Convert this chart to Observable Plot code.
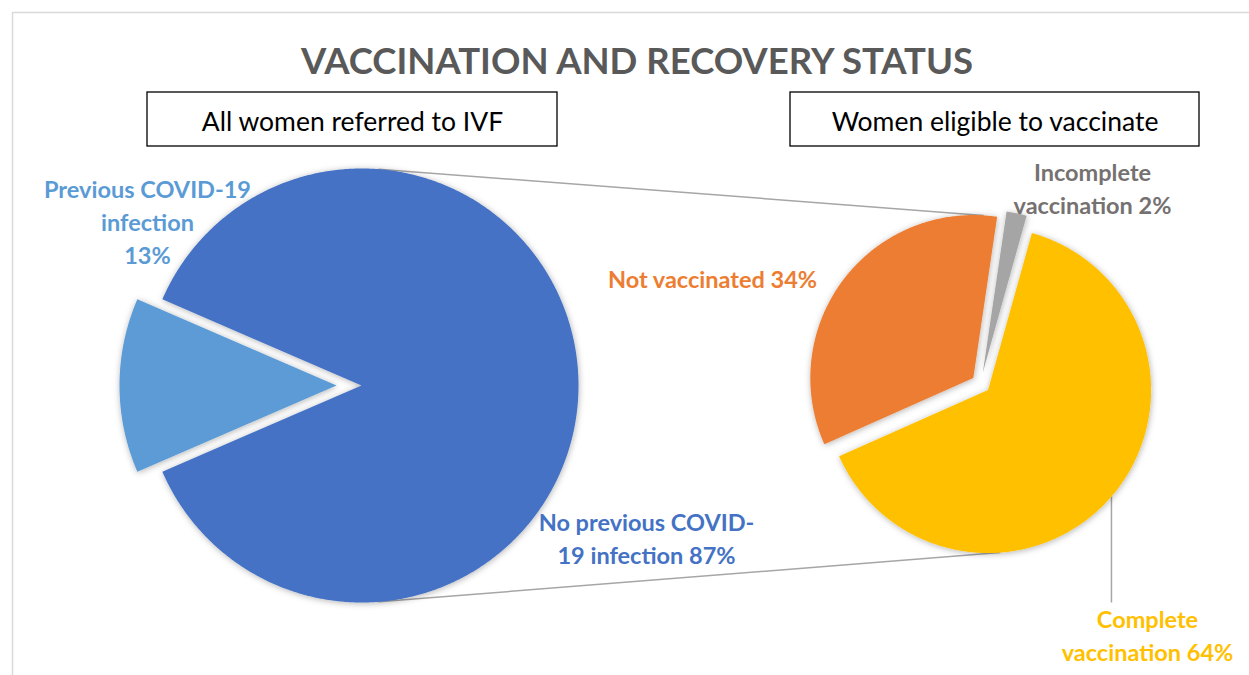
<!DOCTYPE html>
<html><head><meta charset="utf-8">
<script src="https://cdn.jsdelivr.net/npm/d3@7"></script>
<script src="https://cdn.jsdelivr.net/npm/@observablehq/plot@0.6"></script>
<style>body{margin:0;background:#fff;}</style>
</head><body><div id="chart"></div>
<script>
// ---- data ----
const title = "VACCINATION AND RECOVERY STATUS";
const panelTitles = ["All women referred to IVF", "Women eligible to vaccinate"];
const leftCategories = ["Previous COVID-19 infection", "No previous COVID-19 infection"];
const leftValues = [13, 87];
const leftColors = ["#5B9BD5", "#4472C4"];
const leftLabelTemplates = ["Previous COVID-19\ninfection\n{v}%", "No previous COVID-\n19 infection {v}%"];
const rightCategories = ["Not vaccinated", "Incomplete vaccination", "Complete vaccination"];
const rightValues = [34, 2, 64];
const rightColors = ["#ED7D31", "#A5A5A5", "#FFC000"];
const rightLabelTemplates = ["Not vaccinated {v}%", "Incomplete\nvaccination {v}%", "Complete\nvaccination {v}%"];
const rightLabelColors = ["#ED7D31", "#767171", "#FFC000"];

// ---- layout ----
const W = 1249, H = 675;
const deg = Math.PI / 180;
const L = {cx: 361, cy: 385, r: 217, start: -113.4, explode: [25, 0]};
const R = {cx: 980, cy: 383, r: 163, start: -114, explode: [9, 11, 10]};
const leftLabelPos = [{x: 147, y: 263}, {x: 646, y: 563}];
const rightLabelPos = [{x: 712, y: 287}, {x: 1092, y: 213}, {x: 1147, y: 660}];
const calloutEndY = 602;
const boxes = [{x1: 147, x2: 557}, {x1: 790, x2: 1199}];
const boxY = [92, 146];

function slices(values, cats, colors, P) {
  const arcs = d3.pie().sort(null)
    .startAngle(P.start * deg).endAngle(P.start * deg + 2 * Math.PI)(values);
  return arcs.map((a, i) => {
    const mid = (a.startAngle + a.endAngle) / 2;
    const ox = P.cx + P.explode[i] * Math.sin(mid);
    const oy = P.cy - P.explode[i] * Math.cos(mid);
    const n = Math.max(4, Math.ceil((a.endAngle - a.startAngle) / (0.5 * deg)));
    const pts = [{x: ox, y: oy}];
    for (let k = 0; k <= n; k++) {
      const t = a.startAngle + (a.endAngle - a.startAngle) * k / n;
      pts.push({x: ox + P.r * Math.sin(t), y: oy - P.r * Math.cos(t)});
    }
    pts.push({x: ox, y: oy});
    return {cat: cats[i], color: colors[i], value: values[i], ox, oy, r: P.r, mid, pts};
  });
}
const leftS = slices(leftValues, leftCategories, leftColors, L);
const rightS = slices(rightValues, rightCategories, rightColors, R);
const poly = [...leftS, ...rightS].flatMap(s => s.pts.map(p => ({cat: s.cat, color: s.color, x: p.x, y: p.y})));

const rim = (s, angDeg) => ({x: s.ox + s.r * Math.sin(angDeg * deg), y: s.oy - s.r * Math.cos(angDeg * deg)});
const leftRim = a => ({x: L.cx + L.r * Math.sin(a * deg), y: L.cy - L.r * Math.cos(a * deg)});
const connectors = [
  {a: leftRim(4.5), b: rim(rightS[0], 3.6)},
  {a: leftRim(175.5), b: rim(rightS[2], 175.7)}
];
const callStart = rim(rightS[2], rightS[2].mid / deg);
const callout = [{x1: callStart.x, y1: callStart.y, x2: callStart.x, y2: calloutEndY}];

const labels = [
  ...leftS.map((s, i) => ({text: leftLabelTemplates[i].replace("{v}", s.value), color: s.color, ...leftLabelPos[i]})),
  ...rightS.map((s, i) => ({text: rightLabelTemplates[i].replace("{v}", s.value), color: rightLabelColors[i], ...rightLabelPos[i]}))
];

const svg = Plot.plot({
  width: W, height: H, margin: 0,
  x: {domain: [0, W], range: [0, W], axis: null},
  y: {domain: [0, H], range: [0, H], axis: null},
  color: {type: "identity"},
  style: {fontFamily: "Lato, sans-serif", background: "#fff"},
  marks: [
    Plot.ruleY([12], {x1: 12, x2: W, stroke: "#D9D9D9", strokeWidth: 1.5}),
    Plot.ruleX([12], {y1: 12, y2: H, stroke: "#D9D9D9", strokeWidth: 1.5}),
    Plot.text([title], {x: 636.5, y: 73, text: d => d, fontSize: 36.5, fontWeight: "bold", fill: "#595959", lineAnchor: "bottom"}),
    Plot.rect(boxes, {x1: "x1", x2: "x2", y1: boxY[0], y2: boxY[1], fill: "#fff", stroke: "#000", strokeWidth: 1.3}),
    Plot.text(boxes.map((b, i) => ({...b, t: panelTitles[i]})), {x: d => (d.x1 + d.x2) / 2, y: 130, text: "t", fontSize: 26.5, fill: "#000", lineAnchor: "bottom"}),
    Plot.link(connectors, {x1: d => d.a.x, y1: d => d.a.y, x2: d => d.b.x, y2: d => d.b.y, stroke: "#A6A6A6", strokeWidth: 1.5}),
    Plot.link(callout, {x1: "x1", y1: "y1", x2: "x2", y2: "y2", stroke: "#A6A6A6", strokeWidth: 1.5}),
    Plot.line(poly, {x: "x", y: "y", z: "cat", fill: "color", stroke: "none"}),
    Plot.text(labels, {x: "x", y: "y", text: "text", fill: "color", fontSize: 23.5, fontWeight: "bold", lineAnchor: "bottom", lineHeight: 1.4})
  ]
});
const defs = d3.select(svg).insert("defs", ":first-child");
const f = defs.append("filter").attr("id", "shadow").attr("x", "-20%").attr("y", "-20%").attr("width", "140%").attr("height", "140%");
f.append("feDropShadow").attr("dx", 0.5).attr("dy", 1).attr("stdDeviation", 3).attr("flood-color", "#000").attr("flood-opacity", 0.3);
d3.select(svg).selectAll('g[aria-label="line"]').attr("filter", "url(#shadow)");
document.getElementById("chart").appendChild(svg);
</script>
</body></html>
